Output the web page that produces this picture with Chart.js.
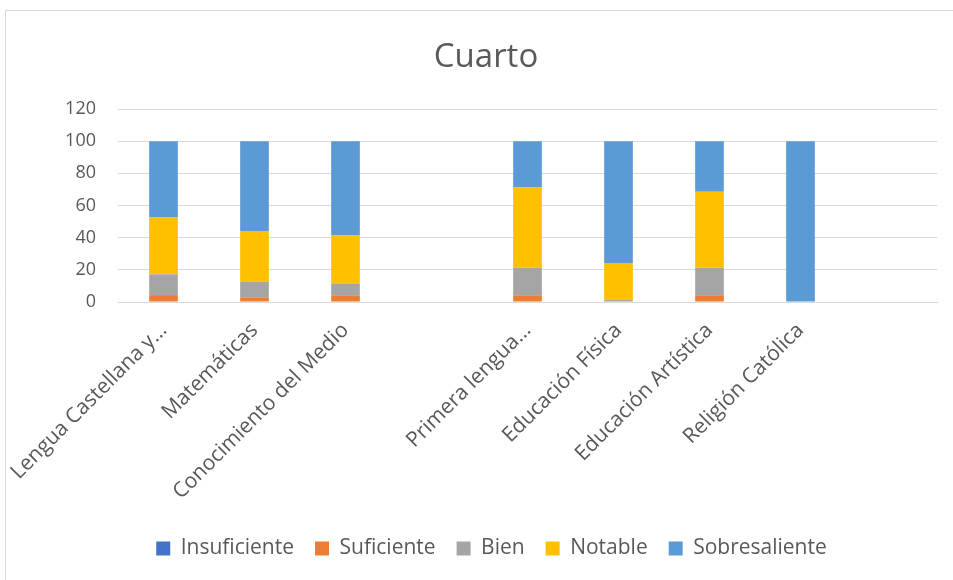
<!DOCTYPE html>
<html>
<head>
<meta charset="utf-8">
<script src="https://cdn.jsdelivr.net/npm/chart.js@4"></script>
<style>
html,body{margin:0;padding:0;background:#fff;}
#wrap{position:relative;width:953px;height:580px;}
</style>
</head>
<body>
<div id="wrap"><canvas id="c" width="953" height="580"></canvas></div>
<script>
const categories = ["Lengua Castellana y…", "Matemáticas", "Conocimiento del Medio", "", "Primera lengua…", "Educación Física", "Educación Artística", "Religión Católica", ""];
const insuficiente = [0, 0, 0, null, 0, 0, 0, 0, null];
const suficiente   = [4.3, 2.9, 4.2, null, 4.2, 0, 4.2, 0, null];
const bien         = [12.9, 9.7, 7.2, null, 17.1, 1.4, 17.1, 0, null];
const notable      = [35.4, 31.5, 30.0, null, 49.9, 22.8, 47.2, 0, null];
const sobresaliente= [47.4, 55.9, 58.6, null, 28.8, 75.8, 31.5, 100, null];
const yTicks = [0, 20, 40, 60, 80, 100, 120];
const chartTitle = "Cuarto";

const seriesNames = ["Insuficiente", "Suficiente", "Bien", "Notable", "Sobresaliente"];
const seriesData = [insuficiente, suficiente, bien, notable, sobresaliente];
const seriesColors = ["#4472C4", "#ED7D31", "#A5A5A5", "#FFC000", "#5B9BD5"];

const FONT = "'Open Sans', 'Noto Sans', sans-serif";
const TEXT = "#595959";
const BOTTOM_PAD = 11;

const frame = {
  id: 'frame',
  beforeDraw(chart) {
    const ctx = chart.ctx;
    ctx.save();
    ctx.fillStyle = '#fff';
    ctx.fillRect(0, 0, chart.width, chart.height);
    ctx.strokeStyle = '#d9d9d9';
    ctx.lineWidth = 1;
    ctx.beginPath();
    ctx.moveTo(5.5, 600);
    ctx.lineTo(5.5, 10.5);
    ctx.lineTo(960, 10.5);
    ctx.stroke();
    ctx.fillStyle = TEXT;
    ctx.font = "33px " + FONT;
    ctx.textAlign = 'center';
    ctx.textBaseline = 'middle';
    ctx.fillText(chartTitle, 486, 58);
    ctx.restore();
  },
  afterLayout(chart) {
    if (chart.legend) {
      chart.legend.left += 23;
      chart.legend.right += 23;
    }
  }
};

new Chart(document.getElementById('c'), {
  type: 'bar',
  data: {
    labels: categories,
    datasets: seriesNames.map((n, i) => ({
      label: n,
      data: seriesData[i],
      backgroundColor: seriesColors[i],
      borderWidth: 0,
      barPercentage: 0.315,
      categoryPercentage: 1.0
    }))
  },
  options: {
    responsive: false,
    animation: false,
    layout: { padding: { left: 0, right: 16, top: 109, bottom: BOTTOM_PAD } },
    plugins: {
      title: { display: false },
      legend: {
        position: 'bottom',
        labels: {
          color: TEXT,
          font: { family: FONT, size: 21 },
          boxWidth: 14,
          boxHeight: 14,
          padding: 21
        }
      },
      tooltip: { enabled: false }
    },
    scales: {
      x: {
        stacked: true,
        grid: { display: false, drawTicks: false },
        border: { display: true, color: '#d9d9d9' },
        ticks: {
          color: TEXT,
          font: { family: FONT, size: 21 },
          maxRotation: 45,
          minRotation: 45,
          autoSkip: false,
          padding: 16
        },
        afterFit(scale) {
          const ch = scale.chart;
          const legendH = ch.legend ? ch.legend.height : 0;
          scale.height = 580 - 302 - legendH - BOTTOM_PAD;
          scale.paddingLeft = 0;
          scale.paddingRight = 0;
        }
      },
      y: {
        stacked: true,
        min: 0,
        max: 120,
        afterBuildTicks(scale) { scale.ticks = yTicks.map(v => ({ value: v })); },
        grid: { color: '#d9d9d9', lineWidth: 1, drawTicks: false },
        border: { display: false },
        ticks: {
          color: TEXT,
          font: { family: FONT, size: 18 },
          padding: 22
        },
        afterFit(scale) { scale.width = 118; }
      }
    }
  },
  plugins: [frame]
});
</script>
</body>
</html>
